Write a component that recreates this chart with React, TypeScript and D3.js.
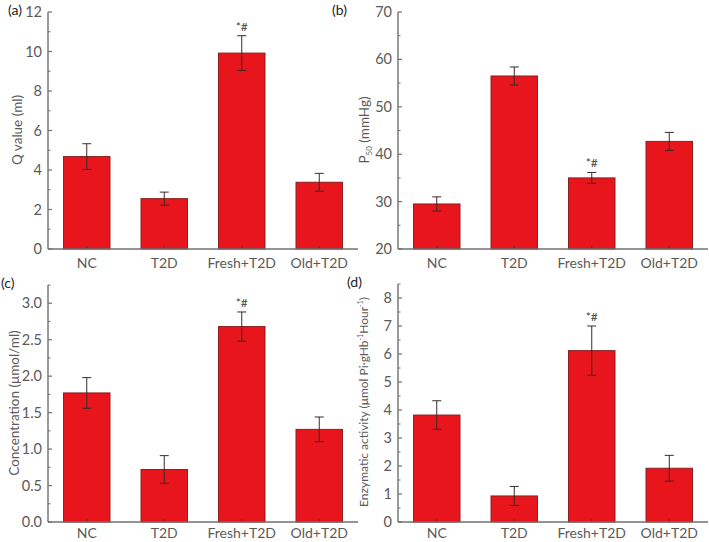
import * as d3 from "d3";

const categories = ["NC", "T2D", "Fresh+T2D", "Old+T2D"];

const qValue = [4.68, 2.55, 9.92, 3.38];
const qError = [0.65, 0.33, 0.88, 0.45];

const p50Value = [29.5, 56.5, 35.0, 42.7];
const p50Error = [1.5, 1.9, 1.15, 1.9];

const concValue = [1.77, 0.72, 2.68, 1.27];
const concError = [0.21, 0.19, 0.2, 0.17];

const enzValue = [3.82, 0.93, 6.12, 1.92];
const enzError = [0.51, 0.34, 0.88, 0.46];

const qTicks = [0, 2, 4, 6, 8, 10, 12];
const p50Ticks = [20, 30, 40, 50, 60, 70];
const concTicks = [0, 0.5, 1.0, 1.5, 2.0, 2.5, 3.0];
const enzTicks = [0, 1, 2, 3, 4, 5, 6, 7, 8];

// index of the group that carries the "*#" mark
const markedIndex = 2;

const FONT = "Lato, 'Open Sans', sans-serif";
const AXIS = "#707070";
const TEXT = "#5a5a5a";

interface PanelProps {
  letter: string;
  letterX: number;
  x0: number;
  x1: number;
  yTop: number;
  yBottom: number;
  domain: [number, number];
  ticks: number[];
  minorStep: number;
  fmt: (d: number) => string;
  values: number[];
  errors: number[];
  label: React.ReactNode;
  labelX: number;
  labelY: number;
  labelSize: number;
  catOffset: number;
}

function Panel(p: PanelProps) {
  const x = d3.scalePoint<string>().domain(categories).range([p.x0, p.x1]).padding(0.5);
  const y = d3.scaleLinear().domain(p.domain).range([p.yBottom, p.yTop]);
  const barW = x.step() * 0.6;
  const capW = 9;
  const minor = d3.range(p.domain[0], p.domain[1] + 1e-9, p.minorStep).filter(
    (v) => !p.ticks.some((t) => Math.abs(t - v) < 1e-9)
  );

  return (
    <g fontFamily={FONT}>
      <text x={p.letterX} y={p.yTop + 3} fontSize={14} fill="#222">
        {p.letter}
      </text>
      {categories.map((c, i) => {
        const cx = x(c)!;
        const v = p.values[i];
        const e = p.errors[i];
        return (
          <g key={c}>
            <rect
              x={cx - barW / 2}
              y={y(v)}
              width={barW}
              height={y(p.domain[0]) - y(v)}
              fill="#e8151d"
              stroke="#8a2020"
              strokeWidth={1}
            />
            <line x1={cx} x2={cx} y1={y(v + e)} y2={y(v - e)} stroke="#3a2a2a" strokeWidth={1} />
            <line x1={cx - capW / 2} x2={cx + capW / 2} y1={y(v + e)} y2={y(v + e)} stroke="#3a2a2a" strokeWidth={1} />
            <line x1={cx - capW / 2} x2={cx + capW / 2} y1={y(v - e)} y2={y(v - e)} stroke="#3a2a2a" strokeWidth={1} />
            <line x1={cx} x2={cx} y1={p.yBottom} y2={p.yBottom - 3} stroke="#5a3030" strokeWidth={1} />
            {i === markedIndex && (
              <text x={cx} y={y(v + e) - 5} textAnchor="middle" fontSize={12} fill="#444">
                *#
              </text>
            )}
            <text x={cx} y={p.yBottom + p.catOffset} textAnchor="middle" fontSize={14} fill={TEXT}>
              {c}
            </text>
          </g>
        );
      })}
      <line x1={p.x0} x2={p.x1} y1={p.yBottom} y2={p.yBottom} stroke={AXIS} strokeWidth={1.4} />
      <line x1={p.x0} x2={p.x0} y1={p.yTop} y2={p.yBottom} stroke={AXIS} strokeWidth={1.4} />
      {p.ticks.map((t) => (
        <g key={t}>
          <line x1={p.x0} x2={p.x0 + 4} y1={y(t)} y2={y(t)} stroke={AXIS} strokeWidth={1.2} />
          <text x={p.x0 - 6} y={y(t) + 5} textAnchor="end" fontSize={14.5} fill={TEXT}>
            {p.fmt(t)}
          </text>
        </g>
      ))}
      {minor.map((t) => (
        <line key={"m" + t} x1={p.x0} x2={p.x0 + 2.5} y1={y(t)} y2={y(t)} stroke={AXIS} strokeWidth={1} />
      ))}
      <text
        transform={`translate(${p.labelX},${p.labelY}) rotate(-90)`}
        textAnchor="middle"
        fontSize={p.labelSize}
        fill={TEXT}
      >
        {p.label}
      </text>
    </g>
  );
}

export default function App() {
  return (
    <svg width={709} height={542} style={{ position: "absolute", left: 0, top: 0, background: "#fff" }}>
      <Panel
        letter="(a)"
        letterX={8}
        x0={48}
        x1={358}
        yTop={12}
        yBottom={249}
        domain={[0, 12]}
        ticks={qTicks}
        minorStep={1}
        fmt={(d) => d3.format("d")(d)}
        values={qValue}
        errors={qError}
        label="Q value (ml)"
        labelX={22}
        labelY={130}
        labelSize={13.5}
        catOffset={19}
      />
      <Panel
        letter="(b)"
        letterX={332}
        x0={398}
        x1={708}
        yTop={12}
        yBottom={249}
        domain={[20, 70]}
        ticks={p50Ticks}
        minorStep={5}
        fmt={(d) => d3.format("d")(d)}
        values={p50Value}
        errors={p50Error}
        label={
          <>
            P<tspan fontSize={8} dy={3}>50</tspan>
            <tspan dy={-3}> (mmHg)</tspan>
          </>
        }
        labelX={369}
        labelY={130}
        labelSize={13.5}
        catOffset={19}
      />
      <Panel
        letter="(c)"
        letterX={1}
        x0={48}
        x1={358}
        yTop={285}
        yBottom={522}
        domain={[0, 3.25]}
        ticks={concTicks}
        minorStep={0.25}
        fmt={(d) => d3.format(".1f")(d)}
        values={concValue}
        errors={concError}
        label="Concentration (μmol/ml)"
        labelX={19}
        labelY={403}
        labelSize={13.5}
        catOffset={16}
      />
      <Panel
        letter="(d)"
        letterX={347}
        x0={398}
        x1={708}
        yTop={284}
        yBottom={522}
        domain={[0, 8.5]}
        ticks={enzTicks}
        minorStep={0.5}
        fmt={(d) => d3.format("d")(d)}
        values={enzValue}
        errors={enzError}
        label={
          <>
            Enzymatic activity (μmol Pi·gHb
            <tspan fontSize={7} dy={-5}>-1</tspan>
            <tspan dy={5}>Hour</tspan>
            <tspan fontSize={7} dy={-5}>-1</tspan>
            <tspan dy={5}>)</tspan>
          </>
        }
        labelX={368}
        labelY={402}
        labelSize={12}
        catOffset={16}
      />
    </svg>
  );
}
